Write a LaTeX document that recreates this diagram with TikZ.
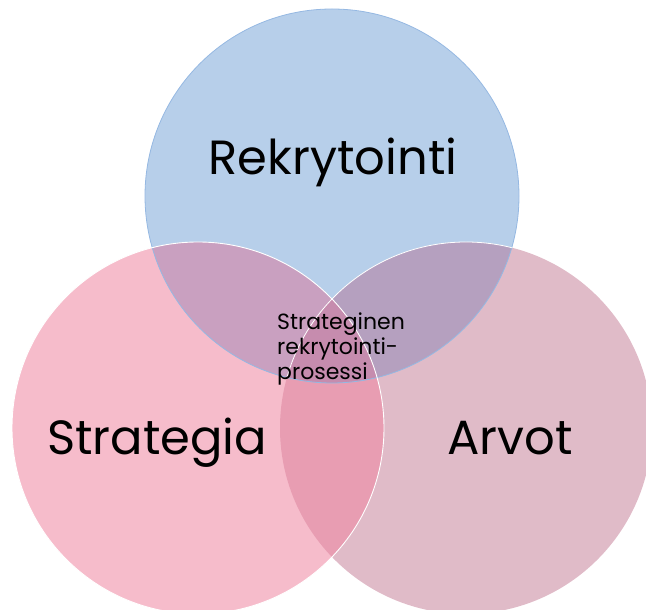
\documentclass[tikz,border=0pt]{standalone}
\usepackage{fontspec}
\setmainfont{Poppins}
\definecolor{cblue}{HTML}{B7CFEA}
\definecolor{cblueedge}{HTML}{95B8E2}
\definecolor{cpink}{HTML}{F6BCCB}
\definecolor{cmauve}{HTML}{E0BBC8}
\definecolor{cbp}{HTML}{C9A0C0}
\definecolor{cbm}{HTML}{B5A0BF}
\definecolor{cpm}{HTML}{E89DB2}
\definecolor{call}{HTML}{C68CAE}
\begin{document}
\begin{tikzpicture}[x=1pt,y=1pt,
  bigtext/.style={font=\fontsize{48}{54}\selectfont, anchor=base, inner sep=0pt},
  midtext/.style={font=\fontsize{22}{25}\selectfont, align=left, anchor=base west, inner sep=0pt}]
\useasboundingbox (0,0) rectangle (646,610);
\clip (0,0) rectangle (646,610);
\def\blueC{(332,414) circle (187)}
\def\leftC{(198,182) circle (186)}
\def\rightC{(466,182) circle (186)}
% single circles
\fill[cblue] \blueC;
\fill[cmauve] \rightC;
\fill[cpink] \leftC;
% pairwise overlaps
\begin{scope}\clip \blueC; \fill[cbp] \leftC; \fill[cbm] \rightC; \end{scope}
\begin{scope}\clip \leftC; \fill[cpm] \rightC; \end{scope}
\begin{scope}\clip \blueC; \clip \leftC; \fill[call] \rightC; \end{scope}
% edges
\draw[cblueedge, line width=0.8pt] (332,414) circle (187);
\begin{scope}\clip \blueC; \draw[white, line width=0.8pt] (466,182) circle (186); \end{scope}
\draw[white, line width=0.9pt] (198,182) circle (186);
% texts
\node[bigtext] (rek) at (333,435) {Rekrytointi};
\node[bigtext] (str) at (157,155) {Strategia};
\node[bigtext] (arv) at (510,155) {Arvot};
\node[midtext] (mid) at (277,230) {Strateginen\\rekrytointi-\\prosessi};
\end{tikzpicture}
\end{document}
